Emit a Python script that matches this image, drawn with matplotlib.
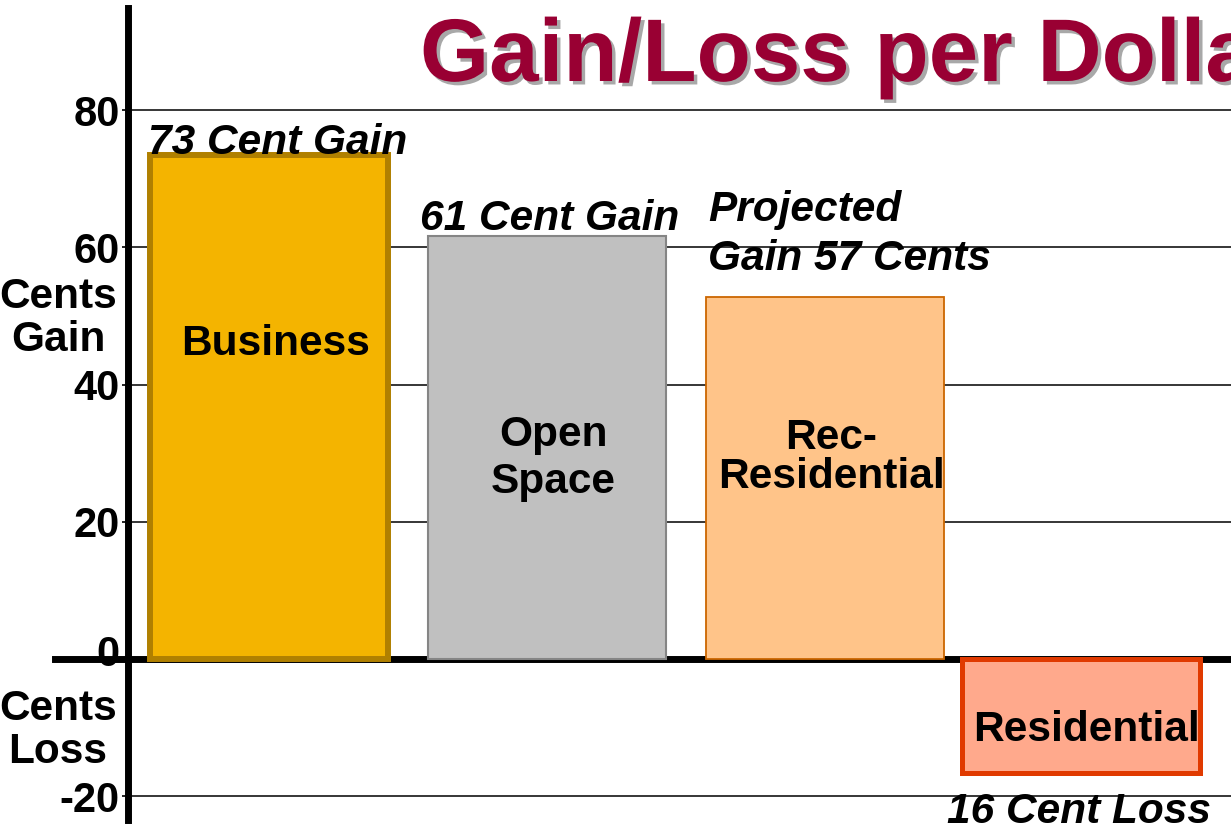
import numpy as np
import matplotlib
matplotlib.use("Agg")
import matplotlib.pyplot as plt
import matplotlib.patheffects as pe
import matplotlib.transforms as mtrans

plt.rcParams['font.family'] = ['Liberation Sans', 'DejaVu Sans']
plt.rcParams['font.weight'] = 'bold'

# data
categories = ["Business", "Open\nSpace", "Rec-\nResidential", "Residential"]
values = [73.4, 61.6, 52.7, -16.6]
top_labels = ["73 Cent Gain", "61 Cent Gain", "Projected\nGain 57 Cents", "16 Cent Loss"]
yticks = [-20, 0, 20, 40, 60, 80]

# layout / style
slots = [0, 1, 2, 2.92]
fills = ["#F4B400", "#C0C0C0", "#FFC489", "#FFA98C"]
edges = ["#B08000", "#858585", "#CC6600", "#E03A00"]
edge_w = [4.3, 1.5, 1.3, 3.6]
inner_y = [45.9, 29.2, 29.4, -10.4]
inner_ls = [1.0, 1.22, 0.98, 1.0]
inner_dx = 0.022
label_xy = [(-0.435, 73.6), (0.543, 62.5), (1.579, 56.7), (2.439, -23.9)]
FS = 30.5

fig = plt.figure(figsize=(12.31, 8.32), dpi=100)
ax = fig.add_axes([128 / 1231, 12 / 832, 1103 / 1231, 812 / 832])
ax.set_xlim(-0.507, 3.46)
ax.set_ylim(-23.47, 94.9)

for s in ["top", "right", "bottom"]:
    ax.spines[s].set_visible(False)
ax.spines["left"].set_linewidth(5)
ax.spines["left"].set_zorder(5)

ax.set_xticks([])
ax.set_yticks(yticks)
ax.set_yticklabels([str(t) for t in yticks], fontsize=30, fontweight='bold')
ax.tick_params(axis='y', length=4, width=1.2, pad=2)
# the "0" label sits a little above the zero line
zero_lab = ax.get_yticklabels()[1]
zero_lab.set_transform(zero_lab.get_transform() + mtrans.ScaledTranslation(0, 8 / 100, fig.dpi_scale_trans))

for t in yticks:
    if t != 0:
        ax.axhline(t, color='black', lw=1.1, zorder=1)
ax.axhline(0, xmin=-0.066, xmax=1, color='black', lw=5, zorder=2, clip_on=False)

bars = ax.bar(slots, values, width=0.856, color=fills, edgecolor=edges,
              linewidth=edge_w, zorder=3)

for x, y, cat, ls in zip(slots, inner_y, categories, inner_ls):
    ax.text(x + inner_dx, y, cat, ha='center', va='center', fontsize=FS,
            fontweight='bold', linespacing=ls, zorder=4)

for (x, y), lab in zip(label_xy, top_labels):
    ax.text(x, y, lab, ha='left', va='baseline', fontsize=FS,
            fontweight='bold', style='italic', linespacing=1.3, zorder=4,
            clip_on=False)

side = mtrans.blended_transform_factory(fig.transFigure, ax.transData)
ax.text(58 / 1231, 49.7, "Cents\nGain", transform=side, ha='center',
        va='center', fontsize=FS, fontweight='bold', linespacing=1.1, clip_on=False)
ax.text(58 / 1231, -10.4, "Cents\nLoss", transform=side, ha='center',
        va='center', fontsize=FS, fontweight='bold', linespacing=1.1, clip_on=False)

fig.text(420 / 1231, 1 - 81 / 832, "Gain/Loss per Dollar", fontsize=64,
         fontweight='bold', color='#990033', ha='left', va='baseline',
         path_effects=[pe.SimplePatchShadow(offset=(2.5, -2.5), shadow_rgbFace='#A8A8A8', alpha=1),
                       pe.Normal()])

fig.savefig("out.png", dpi=100)
